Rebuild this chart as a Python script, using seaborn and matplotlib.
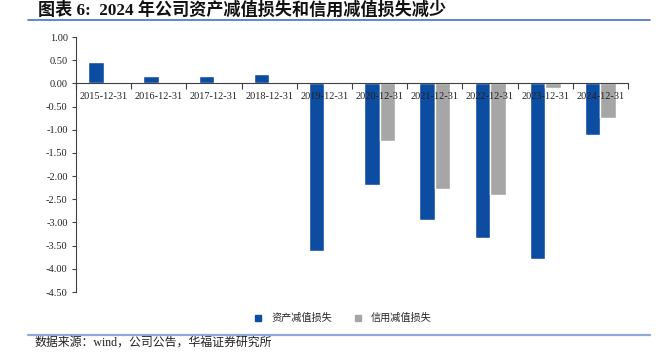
import numpy as np
import pandas as pd
import seaborn as sns
import matplotlib.pyplot as plt
from matplotlib.lines import Line2D
from matplotlib.ticker import FormatStrFormatter

# data (亿元)
dates = ['2015-12-31', '2016-12-31', '2017-12-31', '2018-12-31', '2019-12-31',
         '2020-12-31', '2021-12-31', '2022-12-31', '2023-12-31', '2024-12-31']
asset_loss = [0.47, 0.15, 0.15, 0.21, -3.62, -2.19, -2.94, -3.33, -3.79, -1.11]
credit_loss = [np.nan, np.nan, np.nan, np.nan, np.nan, -1.25, -2.28, -2.40, -0.10, -0.75]
series_names = ['资产减值损失', '信用减值损失']
colors = ['#0D4DA1', '#A6A6A6']

df = pd.DataFrame({
    'date': dates * 2,
    'value': asset_loss + credit_loss,
    'series': [series_names[0]] * len(dates) + [series_names[1]] * len(dates),
})

sns.set_style('white')
serif = ['Liberation Serif', 'Noto Sans CJK SC']
cjk = ['Noto Sans CJK SC', 'DejaVu Sans']

fig = plt.figure(figsize=(6.56, 3.59), dpi=100)
ax = fig.add_axes([0.1159, 0.1866, 0.8415, 0.7103])

sns.barplot(data=df, x='date', y='value', hue='series', order=dates,
            hue_order=series_names, palette=colors, width=0.56,
            saturation=1, legend=False, ax=ax)

ax.set_ylim(-4.5, 1.0)
ax.set_xlim(-0.5, len(dates) - 0.5)
ax.set_yticks(np.arange(-4.5, 1.01, 0.5))
ax.yaxis.set_major_formatter(FormatStrFormatter('%.2f'))
ax.set_xlabel('')
ax.set_ylabel('')
ax.set_axisbelow(False)  # tick labels sit on top of the bars

# axis line at zero with ticks between categories
for s in ['top', 'right']:
    ax.spines[s].set_visible(False)
ax.spines['bottom'].set_position(('data', 0))
ax.spines['left'].set_color('#404040')
ax.spines['bottom'].set_color('#404040')
ax.spines['left'].set_linewidth(0.8)
ax.spines['bottom'].set_linewidth(0.8)
ax.set_xticks(np.arange(-0.5, len(dates), 1.0))
ax.set_xticklabels([])
ax.set_xticks(np.arange(len(dates)), minor=True)
ax.set_xticklabels(dates, minor=True, fontfamily=serif, fontsize=7.5, color='#222222')
ax.tick_params(axis='x', which='major', direction='out', length=4, width=0.8, color='#404040', bottom=True)
ax.tick_params(axis='x', which='minor', length=0, pad=6)
ax.tick_params(axis='y', direction='out', length=3, width=0.8, color='#404040', left=True, pad=3)
for lab in ax.get_yticklabels():
    lab.set_fontfamily(serif)
    lab.set_fontsize(7.5)
    lab.set_color('#222222')
ax.grid(False)

# legend
handles = [Line2D([], [], marker='s', linestyle='', markersize=4, color=c) for c in colors]
fig.legend(handles, series_names, loc='center', bbox_to_anchor=(0.522, 0.114), ncol=2,
           frameon=False, prop={'family': cjk, 'size': 7.3}, handletextpad=0.8,
           columnspacing=2.0, handlelength=1.0)

# title and source
fig.text(0.058, 0.972, '图表 6:  2024 年公司资产减值损失和信用减值损失减少', ha='left', va='center',
         fontsize=12.3, fontweight='bold', fontfamily=serif, color='#111111')
fig.add_artist(Line2D([0.043, 0.991], [0.944, 0.944], color='#4472C4', linewidth=1.2))
fig.add_artist(Line2D([0.043, 0.991], [0.067, 0.067], color='#8EA9DB', linewidth=1.6))
fig.text(0.053, 0.047, '数据来源：wind，公司公告，华福证券研究所', ha='left', va='center',
         fontsize=8.6, fontfamily=['Liberation Serif', 'Noto Sans CJK SC'], color='#222222')

plt.savefig('out.png', dpi=100)
